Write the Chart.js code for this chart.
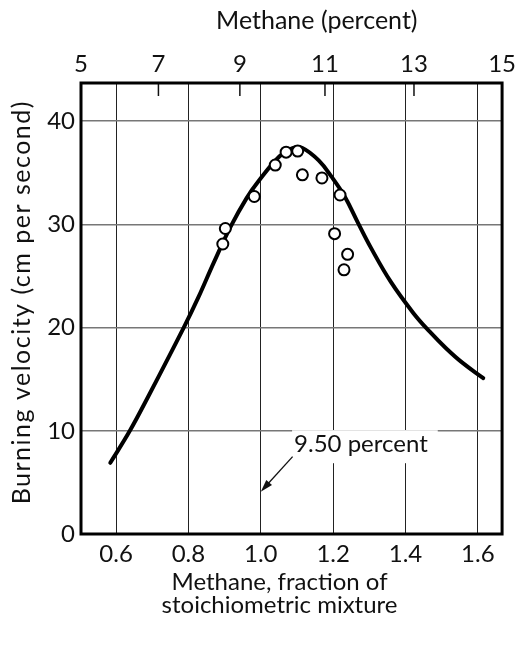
<!DOCTYPE html>
<html>
<head>
<meta charset="utf-8">
<script src="https://cdn.jsdelivr.net/npm/chart.js@4.4.1/dist/chart.umd.min.js"></script>
<style>
    html, body { margin: 0; padding: 0; background: #fff; }
</style>
</head>
<body>
<canvas id="chart" width="520" height="646"></canvas>
<script>
/* Burning velocity of methane-air mixtures */

// smooth curve
const curveFraction = [0.584, 0.638, 0.69, 0.787, 0.827, 0.87, 0.917, 0.96, 0.994, 1.052, 1.088, 1.115, 1.16, 1.196, 1.232, 1.268, 1.305, 1.36, 1.422, 1.467, 1.512, 1.557, 1.615];
const curveVelocity = [6.9, 10.0, 13.4, 20.0, 22.9, 26.3, 29.8, 32.5, 34.2, 36.6, 37.4, 37.4, 36.2, 34.6, 32.7, 30.2, 27.7, 24.4, 21.4, 19.6, 18.0, 16.6, 15.1];

// measured points (open circles)
const pointFraction = [0.895, 0.902, 0.982, 1.04, 1.07, 1.102, 1.115, 1.169, 1.219, 1.204, 1.24, 1.23];
const pointVelocity = [28.1, 29.6, 32.7, 35.75, 37.0, 37.1, 34.8, 34.5, 32.85, 29.1, 27.1, 25.6];

const fractionTicks = [0.6, 0.8, 1.0, 1.2, 1.4, 1.6];
const velocityTicks = [0, 10, 20, 30, 40];
const percentTicks = [5, 7, 9, 11, 13, 15];

const STOICH_PERCENT = 9.5;
const X_MIN = 0.503, X_MAX = 1.667;
const Y_MIN = 0, Y_MAX = 43.7;

const FONT = 'Lato';
const INK = '#111';

// annotation (value space)
const noteText = '9.50 percent';
const noteAt = { x: 1.092, y: 8.7 };
const arrowFrom = { x: 1.088, y: 7.5 };
const arrowTo = { x: 1.0, y: 4.1 };

// methane percent -> fraction of stoichiometric mixture
function percentToFraction(p) {
    const s = STOICH_PERCENT;
    return (p / (100 - p)) / (s / (100 - s));
}

const decorations = {
    id: 'decorations',
    afterDraw(chart) {
        const { ctx, chartArea: a, scales } = chart;
        const x = scales.x, y = scales.y, top = scales.x2;
        ctx.save();

        // annotation box + text
        ctx.font = `24px ${FONT}`;
        ctx.textBaseline = 'middle';
        ctx.textAlign = 'left';
        const tx = x.getPixelForValue(noteAt.x);
        const ty = y.getPixelForValue(noteAt.y);
        const w = ctx.measureText(noteText).width;
        ctx.fillStyle = '#fff';
        ctx.fillRect(tx - 2, ty - 14, w + 12, 33);
        ctx.fillStyle = INK;
        ctx.fillText(noteText, tx, ty);

        // arrow
        const x0 = x.getPixelForValue(arrowFrom.x), y0 = y.getPixelForValue(arrowFrom.y);
        const x1 = x.getPixelForValue(arrowTo.x), y1 = y.getPixelForValue(arrowTo.y);
        const ang = Math.atan2(y1 - y0, x1 - x0);
        ctx.strokeStyle = INK;
        ctx.lineWidth = 1.3;
        ctx.beginPath();
        ctx.moveTo(x0, y0);
        ctx.lineTo(x1 - 8 * Math.cos(ang), y1 - 8 * Math.sin(ang));
        ctx.stroke();
        ctx.beginPath();
        ctx.moveTo(x1, y1);
        ctx.lineTo(x1 - 13 * Math.cos(ang - 0.3), y1 - 13 * Math.sin(ang - 0.3));
        ctx.lineTo(x1 - 13 * Math.cos(ang + 0.3), y1 - 13 * Math.sin(ang + 0.3));
        ctx.closePath();
        ctx.fillStyle = INK;
        ctx.fill();

        // inward ticks on the top (percent) axis
        ctx.lineWidth = 1.5;
        top.ticks.forEach((t, i) => {
            if (i === 0 || i === top.ticks.length - 1) return;
            const px = top.getPixelForValue(t.value);
            ctx.beginPath();
            ctx.moveTo(px, a.top);
            ctx.lineTo(px, a.top + 13);
            ctx.stroke();
        });

        // frame
        ctx.lineWidth = 3;
        ctx.strokeStyle = '#000';
        ctx.strokeRect(a.left, a.top, a.right - a.left, a.bottom - a.top);

        // titles
        ctx.fillStyle = INK;
        ctx.font = `25px ${FONT}`;
        ctx.textAlign = 'center';
        const midX = a.left + (a.right - a.left) * 0.5;
        ctx.fillText('Methane (percent)', a.left + (a.right - a.left) * 0.56, 21);
        ctx.font = `24px ${FONT}`;
        ctx.fillText('Methane, fraction of', midX - 12, a.bottom + 48);
        ctx.fillText('stoichiometric mixture', midX - 12, a.bottom + 71);

        ctx.font = `25px ${FONT}`;
        ctx.letterSpacing = '1.5px';
        ctx.translate(22, a.top + (a.bottom - a.top) * 0.486);
        ctx.rotate(-Math.PI / 2);
        ctx.fillText('Burning velocity (cm per second)', 0, 0);

        ctx.restore();
    }
};

new Chart(document.getElementById('chart'), {
    type: 'scatter',
    data: {
        datasets: [
            {
                label: 'measured',
                data: pointFraction.map((f, i) => ({ x: f, y: pointVelocity[i] })),
                pointStyle: 'circle',
                pointRadius: 5.5,
                pointBackgroundColor: '#fff',
                pointBorderColor: '#000',
                pointBorderWidth: 2,
                showLine: false,
                order: 0,
            },
            {
                label: 'curve',
                data: curveFraction.map((f, i) => ({ x: f, y: curveVelocity[i] })),
                showLine: true,
                borderColor: '#000',
                borderWidth: 4,
                borderCapStyle: 'round',
                tension: 0.4,
                pointRadius: 0,
                order: 1,
            }
        ]
    },
    options: {
        responsive: false,
        animation: false,
        layout: { padding: { top: 0, right: 9, bottom: 0, left: 0 } },
        plugins: {
            legend: { display: false },
            tooltip: { enabled: false },
        },
        scales: {
            x: {
                type: 'linear',
                position: 'bottom',
                min: X_MIN,
                max: X_MAX,
                afterBuildTicks: (s) => { s.ticks = fractionTicks.map(v => ({ value: v })); },
                afterFit: (s) => { s.height = 112; },
                grid: { color: '#222', lineWidth: 1, drawTicks: false },
                border: { display: false },
                ticks: {
                    color: INK,
                    font: { size: 24, family: FONT },
                    padding: 6,
                    maxRotation: 0,
                    callback: (v) => v.toFixed(1),
                },
            },
            x2: {
                type: 'linear',
                position: 'top',
                min: X_MIN,
                max: X_MAX,
                afterBuildTicks: (s) => {
                    s.ticks = percentTicks.map(p => ({
                        value: Math.min(X_MAX, Math.max(X_MIN, percentToFraction(p)))
                    }));
                },
                afterFit: (s) => { s.height = 83; },
                grid: { drawOnChartArea: false, drawTicks: false },
                border: { display: false },
                ticks: {
                    color: INK,
                    font: { size: 24, family: FONT },
                    padding: 4,
                    maxRotation: 0,
                    callback: (v, i) => String(percentTicks[i]),
                },
            },
            y: {
                type: 'linear',
                min: Y_MIN,
                max: Y_MAX,
                afterBuildTicks: (s) => { s.ticks = velocityTicks.map(v => ({ value: v })); },
                afterFit: (s) => { s.width = 81; },
                grid: { color: '#777', lineWidth: 1.5, drawTicks: false },
                border: { display: false },
                ticks: {
                    color: INK,
                    font: { size: 24, family: FONT },
                    padding: 6,
                },
            }
        }
    },
    plugins: [decorations]
});
</script>
</body>
</html>
